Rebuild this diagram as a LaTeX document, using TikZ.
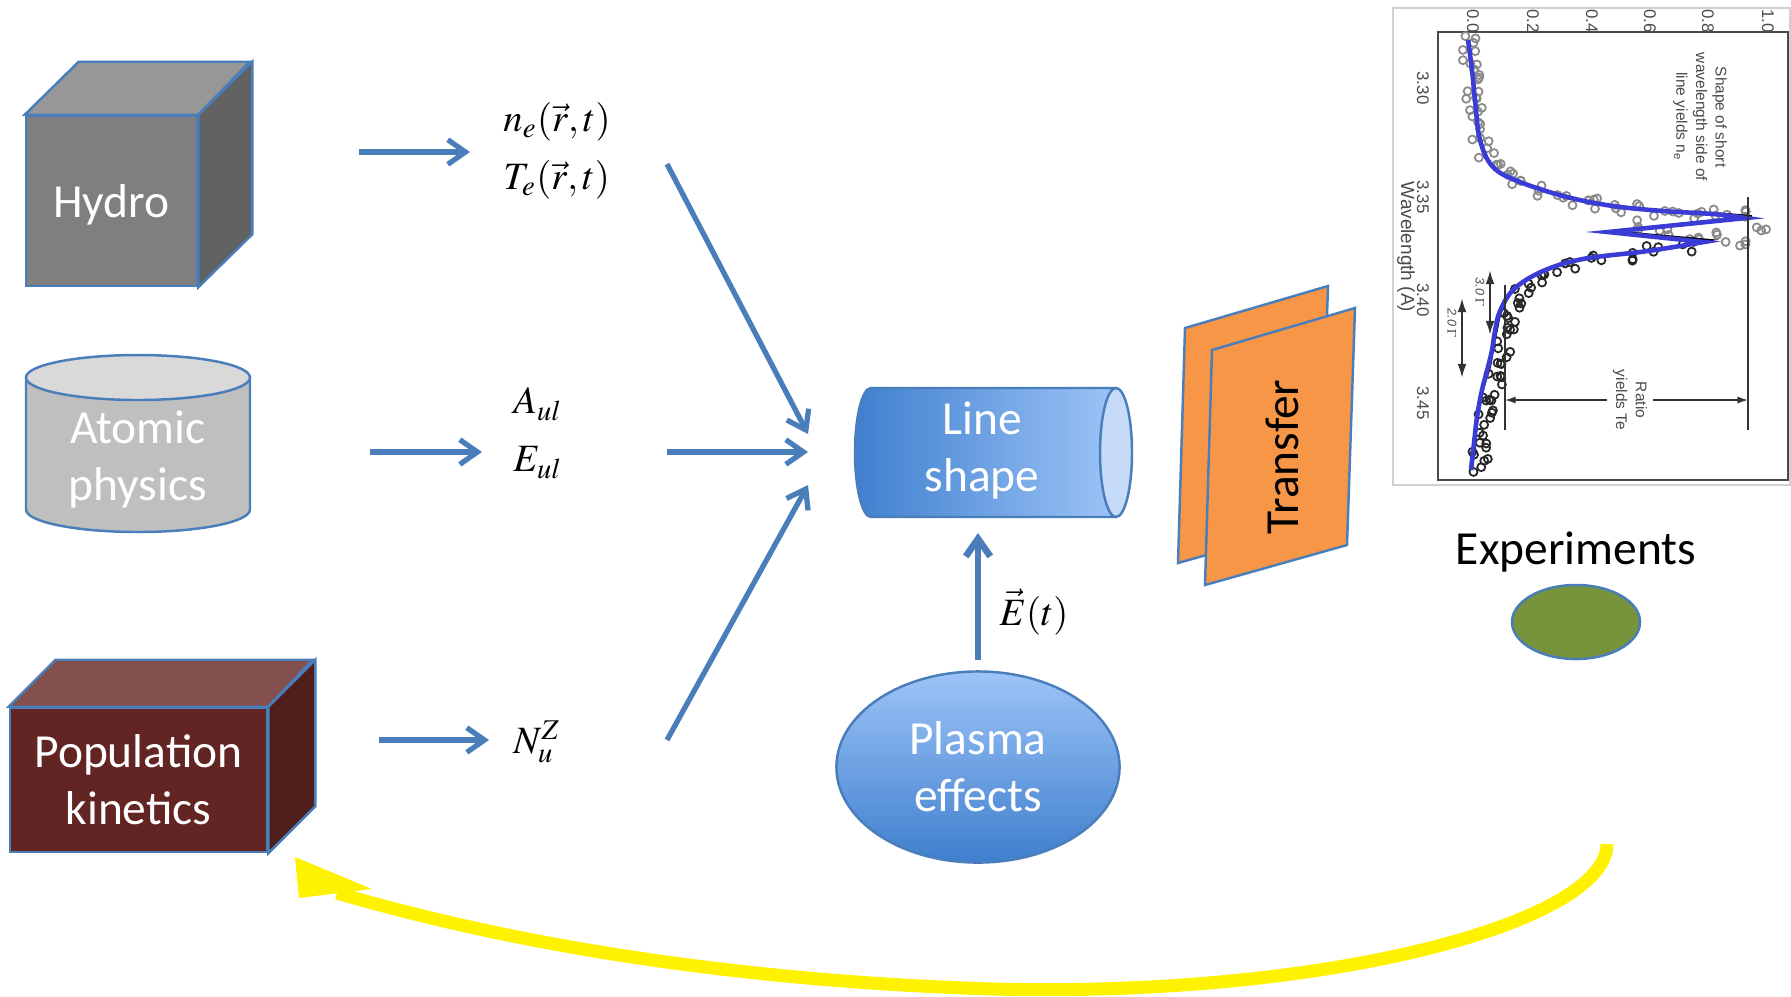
\documentclass[tikz,border=0pt]{standalone}
\usepackage{mathptmx}
\usepackage[no-math]{fontspec}
\setmainfont{Carlito}
\newfontfamily\plotfont{Liberation Sans}
\usetikzlibrary{arrows.meta,positioning,calc,shapes.geometric}
\definecolor{flowBlue}{HTML}{4A7EBB}
\definecolor{hydroFront}{HTML}{7F7F7F}
\definecolor{hydroTop}{HTML}{979797}
\definecolor{hydroSide}{HTML}{626262}
\definecolor{atomSide}{HTML}{BFBFBF}
\definecolor{atomTop}{HTML}{D9D9D9}
\definecolor{popFront}{HTML}{632523}
\definecolor{popTop}{HTML}{84504E}
\definecolor{popSide}{HTML}{4F1D1C}
\definecolor{lsDark}{HTML}{3F7FCE}
\definecolor{lsLight}{HTML}{9DC4F7}
\definecolor{lsCap}{HTML}{C6DBF8}
\definecolor{transOrange}{HTML}{F79646}
\definecolor{expGreen}{HTML}{77933C}
\definecolor{plotBlue}{HTML}{3B3BD6}
\definecolor{plotGrey}{HTML}{8A8A8A}
\definecolor{plotInk}{HTML}{4A4A4A}

\begin{document}
\begin{tikzpicture}[x=0.01cm, y=-0.01cm,
    edge/.style={draw=flowBlue, line width=0.7pt},
    boxtext/.style={font=\fontsize{13.5}{16.2}\selectfont, align=center, text=white},
    formula/.style={font=\fontsize{11}{16.5}\selectfont, align=left, inner sep=0pt},
    flow/.style={draw=flowBlue, line width=1.5pt, -{Straight Barb[length=5pt,width=7pt]}},
    feedback/.style={draw=yellow, line width=3.7pt},
    ticklbl/.style={font=\plotfont\fontsize{4.8}{5.5}\selectfont, text=plotInk, inner sep=0.5pt},
    annot/.style={font=\plotfont\fontsize{4.4}{5.6}\selectfont, text=plotInk, align=center, inner sep=1.5pt},
    dimline/.style={draw=black!80, line width=0.4pt},
    greyDot/.style={draw=plotGrey, line width=0.5pt},
    blackDot/.style={draw=black!85, line width=0.5pt}]
  \useasboundingbox (0,0) rectangle (1791,996);

  % Hydro cube
  \node[edge, fill=hydroFront, boxtext, text depth=0pt, minimum width=1.71cm, minimum height=1.70cm] (hydro) at (111.5,201) {Hydro};
  \draw[edge, fill=hydroTop] (hydro.north west) -- ++(54,-53) -- ++(171,0) -- (hydro.north east) -- cycle;
  \draw[edge, fill=hydroSide] (hydro.north east) -- ++(54,-53) -- ($(hydro.south east)+(54,-53)$) -- (hydro.south east) -- cycle;

  % Atomic physics cylinder
  \draw[edge, fill=atomSide] (26,377.5) -- (26,509.5) arc[start angle=180, end angle=0, x radius=112, y radius=22.5] -- (250,377.5) -- cycle;
  \draw[edge, fill=atomTop] (138,377.5) ellipse[x radius=112, y radius=22.5];
  \node[boxtext] (atomic) at (138,459) {Atomic\\physics};

  % Population kinetics block
  \node[edge, fill=popFront, boxtext, minimum width=2.57cm, minimum height=1.44cm] (pop) at (138.5,780) {Population\\kinetics};
  \draw[edge, fill=popTop] (pop.north west) -- ++(47,-47) -- ++(257,0) -- (pop.north east) -- cycle;
  \draw[edge, fill=popSide] (pop.north east) -- ++(47,-47) -- ($(pop.south east)+(47,-47)$) -- (pop.south east) -- cycle;

  % Quantities
  \node[formula] (netext) at (557,151) {$n_e(\vec{r},t)$\\$T_e(\vec{r},t)$};
  \node[formula] (aetext) at (538,433) {$A_{ul}$\\$E_{ul}$};
  \node[formula] (ntext) at (537,742) {$N_u^Z$};

  % Line shape cylinder
  \path[left color=lsDark, right color=lsLight] (1116,388) -- (871,388) arc[start angle=270, end angle=90, x radius=16, y radius=64.5] -- (1116,517) -- cycle;
  \draw[edge] (1116,388) -- (871,388) arc[start angle=270, end angle=90, x radius=16, y radius=64.5] -- (1116,517);
  \draw[edge, fill=lsCap] (1116,452.5) ellipse[x radius=16, y radius=64.5];
  \node[boxtext] (lineshape) at (982,450) {Line\\shape};

  % Plasma effects
  \node[ellipse, edge, top color=lsLight, bottom color=lsDark, boxtext, minimum width=2.83cm, minimum height=1.91cm] (plasma) at (978,767) {Plasma\\effects};
  \node[formula] (efield) at (1034,612) {$\vec{E}(t)$};

  % Transfer sheets
  \draw[edge, fill=transOrange] (1185,328) -- (1328,286) -- (1320,523) -- (1178,563) -- cycle;
  \draw[edge, fill=transOrange] (1212,350) -- (1355,308) -- (1347,545) -- (1205,585) -- cycle;
  \node[font=\fontsize{13.5}{16}\selectfont, rotate=90] (transfer) at (1282,457) {Transfer};

  % Measured spectrum
  \draw[black!18, line width=0.4pt] (1393,8) rectangle (1790,485);
  \draw[plotInk, line width=0.6pt] (1438,32) rectangle (1788,480);
  \foreach \v/\x in {0.0/1473, 0.2/1533, 0.4/1592, 0.6/1650, 0.8/1708, 1.0/1768} {
    \node[ticklbl, rotate=-90] at (\x,21) {\v};
  }
  \foreach \v/\y in {3.30/88, 3.35/197, 3.40/300, 3.45/403} {
    \node[ticklbl, rotate=-90] at (1423,\y) {\v};
  }
  \node[ticklbl, rotate=-90, font=\plotfont\fontsize{5.4}{6}\selectfont] at (1406,247) {Wavelength (A)};
  \pgfmathsetseed{17}
  \foreach \px/\py in {1468/42, 1470/55, 1471/68, 1472/80, 1474/92, 1475/104, 1476/116, 1478/128,
      1481/140, 1486/152, 1493/164, 1505/174, 1520/182, 1540/190, 1560/196, 1580/200, 1600/204,
      1620/207, 1645/210, 1670/212, 1695/214, 1720/215, 1640/226, 1665/232, 1692/238, 1722/236,
      1752/212, 1762/228, 1740/244} {
    \foreach \k in {1,2,3} {
      \pgfmathsetmacro{\jx}{\px+9*rand}
      \pgfmathsetmacro{\jy}{\py+6*rand}
      \draw[greyDot] (\jx,\jy) circle[radius=4];
    }
  }
  \foreach \px/\py in {1680/246, 1650/251, 1620/255, 1590/259, 1565/264, 1545/271, 1530/278,
      1518/288, 1510/298, 1506/310, 1503/322, 1500/334, 1497/346, 1494/358, 1491/370, 1488/382,
      1485/394, 1482/406, 1480/418, 1478/430, 1476/442, 1474/454, 1473/466} {
    \foreach \k in {1,2,3} {
      \pgfmathsetmacro{\jx}{\px+5+9*rand}
      \pgfmathsetmacro{\jy}{\py+6*rand}
      \draw[blackDot] (\jx,\jy) circle[radius=4];
    }
  }
  % Fitted profiles
  \draw[black, line width=0.5pt] plot[smooth, tension=0.6] coordinates {
      (1468,40) (1472,70) (1475,100) (1480,140) (1493,167) (1520,182) (1567,197) (1613,206)
      (1663,211) (1713,213) (1752,216)}
    -- (1612,231) -- (1712,240)
    -- plot[smooth, tension=0.6] coordinates {(1712,240) (1650,250) (1585,258) (1545,270)
      (1516,288) (1502,310) (1497,330) (1493,350) (1490,367) (1483,390) (1478,417) (1475,443)
      (1472,470)};
  \draw[plotBlue, line width=1.3pt] plot[smooth, tension=0.6] coordinates {
      (1468,40) (1472,70) (1475,100) (1480,140) (1493,167) (1520,182) (1567,197) (1613,206)
      (1663,211) (1713,214) (1746,218)}
    -- (1608,232) -- (1704,242)
    -- plot[smooth, tension=0.6] coordinates {(1704,242) (1648,251) (1583,259) (1543,271)
      (1514,289) (1500,311) (1495,331) (1492,350) (1488,367) (1482,390) (1477,417) (1474,443)
      (1471,470)};
  % Annotations
  \node[annot, rotate=-90] (shapenote) at (1700,117) {Shape of short\\wavelength side of\\line yields n\textsubscript{e}};
  \draw[dimline] (1748,197) -- (1748,430);
  \draw[dimline] (1505,285) -- (1505,430);
  \node[annot, rotate=-90] (ratio) at (1630,400) {Ratio\\yields Te};
  \coordinate (ratioR) at (1748,400);
  \coordinate (ratioL) at (1505,400);
  \draw[dimline, -{Latex[length=3pt,width=2pt]}] (ratio.north) -- (ratioR);
  \draw[dimline, -{Latex[length=3pt,width=2pt]}] (ratio.south) -- (ratioL);
  \coordinate (g3top) at (1490,270);
  \coordinate (g3bot) at (1490,335);
  \coordinate (g2top) at (1462,298);
  \coordinate (g2bot) at (1462,378);
  \draw[dimline, line width=0.6pt, {Latex[length=4pt,width=2.5pt]}-{Latex[length=4pt,width=2.5pt]}] (g3top) -- (g3bot);
  \draw[dimline, line width=0.6pt, {Latex[length=4pt,width=2.5pt]}-{Latex[length=4pt,width=2.5pt]}] (g2top) -- (g2bot);
  \node[annot, rotate=-90, font=\plotfont\itshape\fontsize{3.6}{4}\selectfont] (g3lbl) at (1480,292) {3.0 $\Gamma$};
  \node[annot, rotate=-90, font=\plotfont\itshape\fontsize{3.6}{4}\selectfont] (g2lbl) at (1452,323) {2.0 $\Gamma$};

  % Experiments
  \node[font=\fontsize{13.5}{16}\selectfont] (exptext) at (1576,552) {Experiments};
  \node[ellipse, edge, fill=expGreen, minimum width=1.28cm, minimum height=0.74cm] (expdot) at (1576,622) {};

  % Arrows into the quantities
  \coordinate (hydroOut) at (359,152);
  \coordinate (neIn) at (470,152);
  \coordinate (atomOut) at (370,452);
  \coordinate (aeIn) at (482,452);
  \coordinate (popOut) at (379,740);
  \coordinate (nIn) at (489,740);
  \draw[flow] (hydroOut) -- (neIn);
  \draw[flow] (atomOut) -- (aeIn);
  \draw[flow] (popOut) -- (nIn);
  % Arrows into the line shape
  \coordinate (neOut) at (667,164);
  \coordinate (aeOut) at (667,452);
  \coordinate (nOut) at (667,740);
  \coordinate (lsInTop) at (808,434);
  \coordinate (lsInMid) at (808,452);
  \coordinate (lsInBot) at (808,485);
  \draw[flow] (neOut) -- (lsInTop);
  \draw[flow] (aeOut) -- (lsInMid);
  \draw[flow] (nOut) -- (lsInBot);
  \coordinate (plasmaOut) at (978,660);
  \coordinate (lsInLow) at (978,533);
  \draw[flow, line width=1.9pt] (plasmaOut) -- (lsInLow);

  % Feedback loop
  \coordinate (loopStart) at (1607,844);
  \coordinate (loopBase) at (337,893);
  \coordinate (loopTip) at (295,857);
  \coordinate (headL) at (299,898);
  \coordinate (headR) at (372,889);
  \draw[feedback] (loopStart) .. controls (1607,924) and (1314,1002) .. (964,988)
    .. controls (640,975) and (430,920) .. (loopBase);
  \fill[yellow] (loopTip) -- (headL) -- (headR) -- cycle;
\end{tikzpicture}
\end{document}
